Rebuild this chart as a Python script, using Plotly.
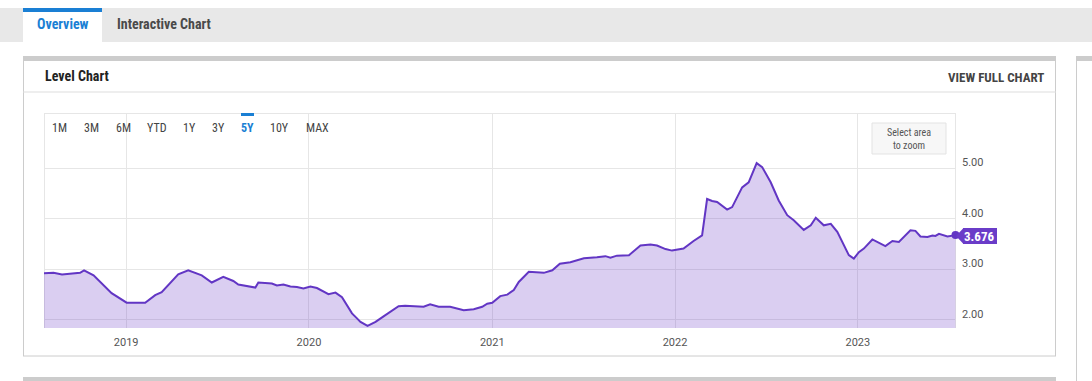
import plotly.graph_objects as go

# ---- data ----
dates = [
    "2018-07-21", "2018-08-09", "2018-08-26", "2018-09-18", "2018-10-01", "2018-10-09", "2018-10-28",
    "2018-12-03", "2019-01-02", "2019-02-08", "2019-02-28", "2019-03-13", "2019-04-15", "2019-05-05",
    "2019-06-01", "2019-06-21", "2019-07-14", "2019-08-03", "2019-08-13", "2019-09-16", "2019-09-22",
    "2019-10-19", "2019-10-29", "2019-11-11", "2019-11-25", "2019-12-08", "2019-12-21", "2020-01-04",
    "2020-01-17", "2020-02-09", "2020-02-23", "2020-03-07", "2020-03-27", "2020-04-06", "2020-04-13",
    "2020-04-27", "2020-05-13", "2020-05-29", "2020-06-15", "2020-06-28", "2020-07-11", "2020-08-17",
    "2020-08-30", "2020-09-16", "2020-10-09", "2020-11-05", "2020-11-25", "2020-12-12", "2020-12-22",
    "2021-01-01", "2021-01-17", "2021-01-31", "2021-02-13", "2021-02-23", "2021-03-15", "2021-04-14",
    "2021-05-01", "2021-05-16", "2021-06-06", "2021-07-03", "2021-07-29", "2021-08-15", "2021-08-25",
    "2021-09-07", "2021-10-01", "2021-10-24", "2021-11-13", "2021-11-26", "2021-12-13", "2021-12-26",
    "2022-01-18", "2022-02-01", "2022-02-07", "2022-02-24", "2022-03-06", "2022-03-16", "2022-03-26",
    "2022-04-15", "2022-04-25", "2022-05-15", "2022-05-28", "2022-06-13", "2022-06-24", "2022-07-11",
    "2022-07-27", "2022-08-13", "2022-08-26", "2022-09-15", "2022-09-29", "2022-10-09", "2022-10-25",
    "2022-11-08", "2022-11-21", "2022-12-14", "2022-12-24", "2023-01-03", "2023-01-13", "2023-01-30",
    "2023-02-15", "2023-02-25", "2023-03-11", "2023-03-24", "2023-04-16", "2023-04-26", "2023-05-06",
    "2023-05-20", "2023-05-30", "2023-06-05", "2023-06-12", "2023-06-29", "2023-07-15",
]
values = [
    2.92, 2.93, 2.90, 2.92, 2.93, 2.98, 2.88,
    2.53, 2.34, 2.34, 2.49, 2.55, 2.90, 2.98,
    2.88, 2.74, 2.85, 2.77, 2.70, 2.64, 2.74,
    2.72, 2.68, 2.70, 2.66, 2.65, 2.62, 2.66,
    2.63, 2.51, 2.54, 2.45, 2.13, 2.03, 1.96,
    1.88, 1.96, 2.07, 2.19, 2.27, 2.28, 2.26,
    2.31, 2.26, 2.26, 2.19, 2.21, 2.26, 2.32,
    2.34, 2.47, 2.50, 2.59, 2.75, 2.95, 2.93,
    2.98, 3.11, 3.14, 3.22, 3.24, 3.26, 3.23,
    3.27, 3.28, 3.47, 3.49, 3.47, 3.40, 3.37,
    3.41, 3.52, 3.56, 3.67, 4.39, 4.35, 4.33,
    4.18, 4.23, 4.62, 4.72, 5.10, 5.02, 4.72,
    4.36, 4.07, 3.97, 3.78, 3.87, 4.02, 3.87,
    3.90, 3.74, 3.28, 3.21, 3.34, 3.41, 3.59,
    3.51, 3.46, 3.56, 3.54, 3.77, 3.76, 3.65,
    3.64, 3.67, 3.66, 3.70, 3.65, 3.676,
]
last_value_label = "3.676"
y_ticks = [2, 3, 4, 5]
y_tick_labels = ["2.00", "3.00", "4.00", "5.00"]
range_buttons = ["1M", "3M", "6M", "YTD", "1Y", "3Y", "5Y", "10Y", "MAX"]
active_button = "5Y"

# ---- layout geometry (pixels) ----
W, H = 1092, 381
L, R, T, B = 44, 956, 113, 328


def px(x):
    return (x - L) / (R - L)


def py(y):
    return (B - y) / (B - T)


LINE = "#6236c4"
BOX = "#6a3cc8"
FILL = "rgba(106,60,200,0.25)"
GRID = "#e6e6e6"
COND = "Roboto Condensed, Liberation Sans Narrow, Roboto, sans-serif"

fig = go.Figure()
fig.add_trace(go.Scatter(
    x=dates, y=values, mode="lines", fill="tozeroy", fillcolor=FILL,
    line=dict(color=LINE, width=2), hoverinfo="skip", showlegend=False,
))
fig.add_trace(go.Scatter(
    x=[dates[-1]], y=[values[-1]], mode="markers",
    marker=dict(color=LINE, size=8), cliponaxis=False, showlegend=False, hoverinfo="skip",
))

shapes = []


def rect(x0, y0, x1, y1, fill, line_color=None, lw=0, layer="below"):
    shapes.append(dict(type="rect", xref="paper", yref="paper",
                       x0=px(x0), x1=px(x1), y0=py(y1), y1=py(y0),
                       fillcolor=fill, line=dict(color=line_color or fill, width=lw), layer=layer))


def hline(x0, x1, y, color, w=1, layer="below"):
    shapes.append(dict(type="line", xref="paper", yref="paper",
                       x0=px(x0), x1=px(x1), y0=py(y), y1=py(y),
                       line=dict(color=color, width=w), layer=layer))


def vline(x, y0, y1, color, w=1, layer="below"):
    shapes.append(dict(type="line", xref="paper", yref="paper",
                       x0=px(x), x1=px(x), y0=py(y0), y1=py(y1),
                       line=dict(color=color, width=w), layer=layer))


# tab bar
rect(0, 8, W, 42, "#e8e8e8")
rect(23, 8, 102, 42, "#ffffff")
rect(23, 8, 102, 12, "#1a7fd4")
# main card
rect(23, 56, 1056, 61, "#cccccc")
vline(23.5, 61, 356, "#cccccc")
vline(1055.5, 61, 356, "#cccccc")
hline(23, 1056, 356, "#cccccc")
hline(23, 1056, 92, "#dddddd")
# next card on the right
rect(1076, 56, W, 61, "#cccccc")
vline(1076.5, 61, 381, "#cccccc")
# bottom card bar
rect(23, 377, 1056, 381, "#cccccc")
# plot frame
hline(L, R, T + 0.5, GRID)
vline(L + 0.5, T, B, GRID)
vline(R - 0.5, T, B, GRID)
# 5Y indicator
rect(241, 113, 254, 116, "#1a7fd4", layer="above")
# select area button
rect(872, 123, 946, 154, "#f7f7f7", "#e3e3e3", 1, layer="above")
# value label with arrow
rect(963, 228, 997, 244, BOX, layer="above")
shapes.append(dict(type="path", xref="paper", yref="paper", layer="above",
                   path="M {} {} L {} {} L {} {} Z".format(px(956), py(236), px(963.5), py(228), px(963.5), py(244)),
                   fillcolor=BOX, line=dict(width=0)))

ann = []


def text(x, y, s, size, color, bold=False, anchor="left", family="Roboto, sans-serif"):
    ann.append(dict(xref="paper", yref="paper", x=px(x), y=py(y), text=("<b>%s</b>" % s) if bold else s,
                    showarrow=False, xanchor=anchor, yanchor="middle",
                    font=dict(size=size, color=color, family=family)))


text(62.5, 24, "Overview", 14, "#1a7fd4", True, "center", COND)
text(115, 24, "Interactive Chart", 14, "#4a4a4a", True, "left", COND)
text(43, 76, "Level Chart", 14, "#222222", True, "left", COND)
text(1046, 77, "VIEW FULL CHART", 13, "#444444", True, "right", COND)

btn_x = [59, 91, 123, 157, 189, 218, 247, 279, 317]
for bx, b in zip(btn_x, range_buttons):
    if b == active_button:
        text(bx, 128, b, 12, "#1a7fd4", True, "center", COND)
    else:
        text(bx, 128, b, 12, "#444444", False, "center", COND)

ann.append(dict(xref="paper", yref="paper", x=px(909), y=py(138.5), text="Select area<br>to zoom",
                showarrow=False, xanchor="center", yanchor="middle",
                font=dict(size=10, color="#555555", family=COND)))
text(979, 236, last_value_label, 13, "#ffffff", True, "center", COND)

fig.update_layout(
    width=W, height=H,
    margin=dict(l=L, r=W - R, t=T, b=H - B),
    paper_bgcolor="#ffffff", plot_bgcolor="#ffffff",
    shapes=shapes, annotations=ann, showlegend=False,
    font=dict(family="Roboto, sans-serif", size=11, color="#666666"),
    xaxis=dict(
        type="date", range=["2018-07-21", "2023-07-16"],
        tick0="2019-01-01", dtick="M12", tickformat="%Y",
        showgrid=True, gridcolor=GRID, gridwidth=1, zeroline=False, showline=False,
        ticks="", tickfont=dict(size=11, color="#555555"), ticklabelstandoff=6, fixedrange=True,
    ),
    yaxis=dict(
        range=[1.84, 6.09], side="right", tickvals=y_ticks, ticktext=y_tick_labels,
        showgrid=True, gridcolor=GRID, gridwidth=1, zeroline=False, showline=False,
        ticks="", tickfont=dict(size=11, color="#555555"), ticklabelstandoff=5,
        ticklabelshift=-6, fixedrange=True,
    ),
)

fig.write_html("out.html")
